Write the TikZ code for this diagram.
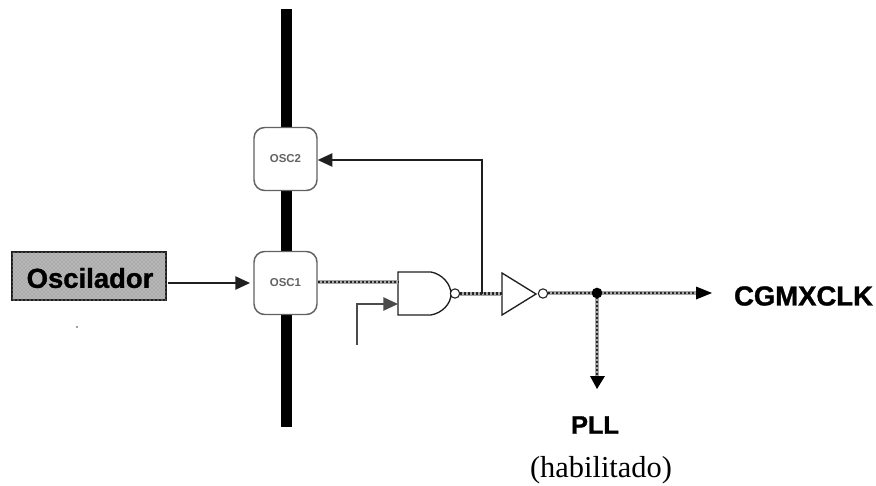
\documentclass[tikz,border=0pt]{standalone}
\usepackage{fontspec}
\setmainfont{Liberation Sans}
\newfontfamily\serifface{Liberation Serif}
\newfontfamily\heavyface[FakeBold=1.2]{Liberation Sans Bold}
\usetikzlibrary{arrows.meta,patterns}
\definecolor{ink}{gray}{0.12}
\tikzset{
  x=0.75pt,y=-0.75pt,
  osc/.style={draw=ink!70,line width=1.1pt,rounded corners=8pt,fill=white,minimum width=47.25pt,minimum height=47.25pt,inner sep=0pt,font=\bfseries\fontsize{8.6}{10}\selectfont,text=ink!70},
  wire/.style={draw=ink,line width=1.1pt},
  arrowed/.style={-{Triangle[length=11pt,width=10pt]}},
  busback/.style={draw=gray!70,line width=3pt},
  busfront/.style={draw=black!85,line width=1.8pt,dash pattern=on 1.5pt off 1.5pt},
  gate/.style={draw=ink,line width=1pt,fill=white},
  bubble/.style={circle,draw=ink,line width=0.8pt,fill=white,minimum size=7pt,inner sep=0pt},
  heavy/.style={inner sep=0pt},
}
\begin{document}
\begin{tikzpicture}
\useasboundingbox (0,0) rectangle (876,486);
\fill[white] (0,0) rectangle (876,486);
% bar
\fill[black] (281,9) rectangle (292,427);
% oscillator box
\node[draw=ink,line width=1.1pt,minimum width=115.5pt,minimum height=36pt,inner sep=0pt,fill=gray!65,postaction={pattern=crosshatch dots,pattern color=white!70!gray}] (oscbox) at (89,276) {};
\node[heavy,font=\heavyface\fontsize{20.6}{22}\selectfont] (osclabel) at (90,278) {Oscilador};
% pads
\node[osc] (osc2) at (285.5,159) {OSC2};
\node[osc] (osc1) at (285.5,283) {OSC1};
% stray dot
\fill[gray] (77,327) circle (0.8pt);
% gates
\path[gate] (398,272) -- (431,272) .. controls (442,274) and (451,284) .. (451,294) .. controls (451,304) and (442,313) .. (431,315) -- (398,315) -- cycle;
\coordinate (nandA) at (398,282);
\coordinate (nandB) at (398,304);
\node[bubble] (nandout) at (455,293.5) {};
\path[gate] (502,273) -- (536,294) -- (502,315) -- cycle;
\coordinate (notin) at (502,293.5);
\node[bubble] (notout) at (543,293.5) {};
% coordinates
\coordinate (tap) at (482,293.5);
\coordinate (tapup) at (482,160);
\coordinate (inB) at (357,345);
\coordinate (inBc) at (357,304);
\coordinate (junct) at (597,293);
\coordinate (outA) at (712,293);
\coordinate (outB) at (597,389);
% buses
\foreach \st in {busback,busfront}{
  \draw[\st] (osc1.east |- nandA) -- (nandA);
  \draw[\st] (nandout.east) -- (notin);
  \draw[\st] (notout.east |- junct) -- (696,293);
  \draw[\st] (junct) -- (597,376);
}
\fill[black] (696,286.5) -- (outA) -- (696,299.5) -- cycle;
\fill[black] (590,376) -- (605,376) -- (outB) -- cycle;
\fill[black] (junct) circle (4pt);
% thin wires
\draw[wire,arrowed] (168,283) -- (250,283);
\draw[wire,arrowed] (tap) -- (tapup) -- (osc2.east |- tapup);
\draw[wire,draw=ink!80,arrowed] (inB) -- (inBc) -- (nandB);
% labels
\node[heavy,font=\heavyface\fontsize{20.6}{22}\selectfont] (cgm) at (803.5,296) {CGMXCLK};
\node[heavy,font=\heavyface\fontsize{19}{22}\selectfont] (pll) at (595,425) {PLL};
\node[inner sep=0pt,font=\serifface\fontsize{22.8}{26}\selectfont] (hab) at (601,470) {(habilitado)};
\end{tikzpicture}
\end{document}
